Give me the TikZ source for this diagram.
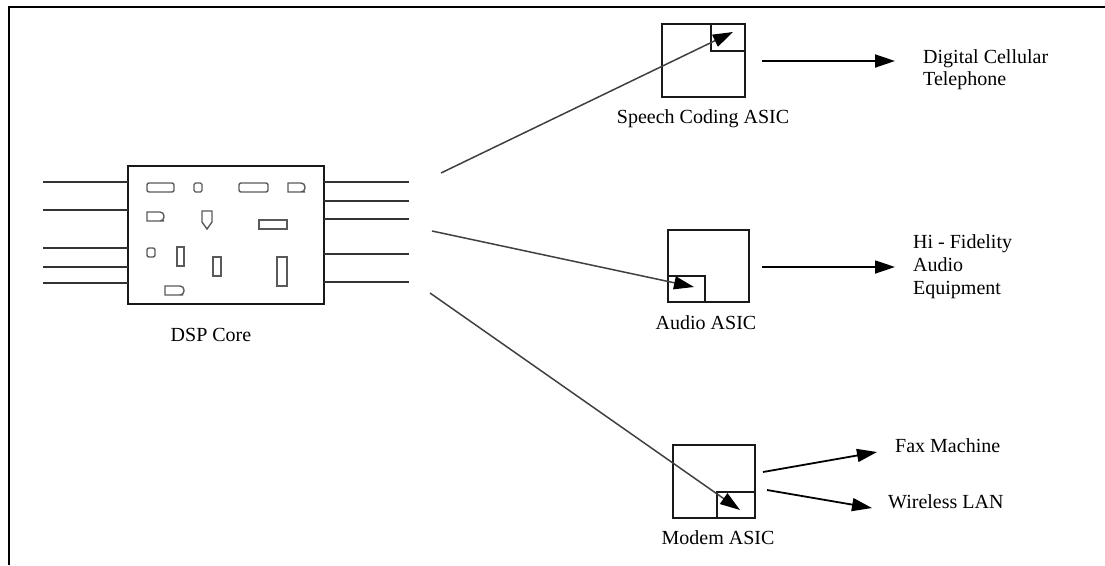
\documentclass[tikz,border=0pt]{standalone}
\usepackage{fontspec}
\setmainfont{Liberation Serif}
\usetikzlibrary{arrows.meta}
\tikzset{
  box/.style={draw=black!90, line width=2.4pt, inner sep=0pt, fill=none},
  lead/.style={draw=black!80, line width=2pt},
  part/.style={draw=black!65, line width=1.4pt},
  feed/.style={draw=black!75, line width=1.5pt, -{Triangle[length=20pt,width=13pt,color=black,fill=black]}},
  outarrow/.style={draw=black, line width=1.8pt, -{Triangle[length=20pt,width=13pt,fill=black]}},
  lbl/.style={inner sep=0pt, font=\fontsize{20}{22}\selectfont},
}
\begin{document}
\begin{tikzpicture}[x=1pt,y=-1pt]
\useasboundingbox (0,0) rectangle (1105,565);
% frame (top and left edges)
\draw[line width=2pt] (9,565) -- (9,7) -- (1105,7);

% DSP core
\node[box, minimum width=196pt, minimum height=138pt] (dsp) at (226,235) {};
\node[lbl] (dsplbl) at (211,335) {DSP Core};
% leads left
\foreach \y in {182,210,248,267,283}{
  \draw[lead] (43,\y) -- (128,\y);
}
% leads right
\foreach \y in {182,201,219,254,282}{
  \draw[lead] (324,\y) -- (409,\y);
}
% parts inside the core
\draw[part, rounded corners=2pt] (147,183) rectangle (174,192);
\draw[part, rounded corners=1.5pt] (194,183) rectangle (202,192);
\draw[part, rounded corners=2pt] (239,183) rectangle (268,192);
\draw[part] (288,183) -- (301,183) [rounded corners=4pt] -- (305,183) -- (305,192) -- (301,192) [sharp corners] -- (288,192) -- cycle;
\draw[part] (147,212) -- (160,212) [rounded corners=4pt] -- (164,212) -- (164,221) -- (160,221) [sharp corners] -- (147,221) -- cycle;
\draw[part] (202,211) -- (212,211) -- (212,222) -- (207,229) -- (202,222) -- cycle;
\draw[part] (259,220) rectangle (287,229);
\draw[part, rounded corners=2pt] (147,248) rectangle (155,257);
\draw[part] (177,247) rectangle (184,266);
\draw[part] (213,257) rectangle (221,276);
\draw[part] (277,257) rectangle (287,286);
\draw[part] (165,286) -- (179,286) [rounded corners=4pt] -- (184,286) -- (184,295) -- (179,295) [sharp corners] -- (165,295) -- cycle;

% Speech coding ASIC
\node[box, minimum width=83pt, minimum height=73pt] (speech) at (703.5,60.5) {};
\node[box, minimum width=34pt, minimum height=27pt] (speechin) at (728,37.5) {};
\node[lbl] (speechlbl) at (703,119) {Speech Coding ASIC};
\node[lbl, align=left, anchor=west] (tel) at (923,70) {Digital Cellular\\Telephone};

% Audio ASIC
\node[box, minimum width=81pt, minimum height=72pt] (audio) at (708.5,266) {};
\node[box, minimum width=37pt, minimum height=26pt] (audioin) at (686.5,289) {};
\node[lbl] (audiolbl) at (706,323) {Audio ASIC};
\node[lbl, align=left, anchor=west, font=\fontsize{20}{23}\selectfont] (hifi) at (913,267) {Hi - Fidelity\\Audio\\Equipment};

% Modem ASIC
\node[box, minimum width=82pt, minimum height=73pt] (modem) at (714,481.5) {};
\node[box, minimum width=38pt, minimum height=26pt] (modemin) at (736,505) {};
\node[lbl] (modemlbl) at (718,538) {Modem ASIC};
\node[lbl, anchor=west] (fax) at (895,446) {Fax Machine};
\node[lbl, anchor=west] (wlan) at (888,502) {Wireless LAN};

% connector end points
\coordinate (f1s) at (441,173);
\coordinate (f1e) at (733,32);
\coordinate (f2s) at (432,231);
\coordinate (f2e) at (694,287);
\coordinate (f3s) at (430,293);
\coordinate (f3e) at (740,510);
\coordinate (o1s) at (762,61);
\coordinate (o1e) at (895,61);
\coordinate (o2s) at (762,267);
\coordinate (o2e) at (895,267);
\coordinate (o3s) at (763,472);
\coordinate (o3e) at (877,452);
\coordinate (o4s) at (767,490);
\coordinate (o4e) at (872,508);

\draw[feed] (f1s) -- (f1e);
\draw[feed] (f2s) -- (f2e);
\draw[feed] (f3s) -- (f3e);
\draw[outarrow] (o1s) -- (o1e);
\draw[outarrow] (o2s) -- (o2e);
\draw[outarrow] (o3s) -- (o3e);
\draw[outarrow] (o4s) -- (o4e);
\end{tikzpicture}
\end{document}
